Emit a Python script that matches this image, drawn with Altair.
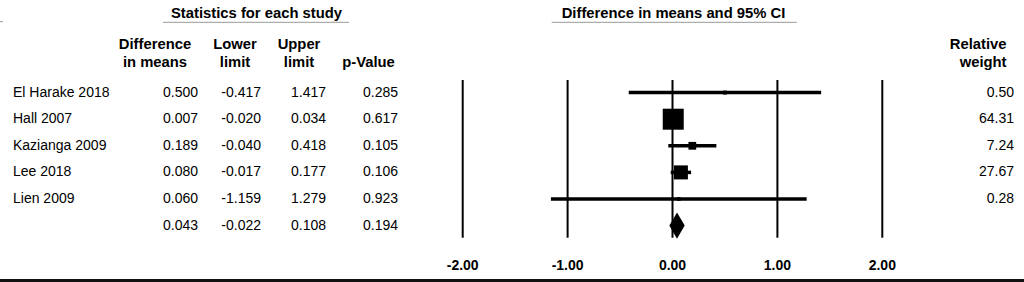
import altair as alt
import pandas as pd

# ---- data ----
studies = ["El Harake 2018", "Hall 2007", "Kazianga 2009", "Lee 2018", "Lien 2009"]
diff = [0.500, 0.007, 0.189, 0.080, 0.060]
lower = [-0.417, -0.020, -0.040, -0.017, -1.159]
upper = [1.417, 0.034, 0.418, 0.177, 1.279]
pval = [0.285, 0.617, 0.105, 0.106, 0.923]
weight = [0.50, 64.31, 7.24, 27.67, 0.28]

summary_diff = 0.043
summary_lower = -0.022
summary_upper = 0.108
summary_p = 0.194

ticks = [-2, -1, 0, 1, 2]
tick_labels = ["-2.00", "-1.00", "0.00", "1.00", "2.00"]

title_left = "Statistics for each study"
title_right = "Difference in means and 95% CI"
headers_top = ["Difference", "Lower", "Upper", "Relative"]
headers_bottom = ["in means", "limit", "limit", "p-Value", "weight"]

FONT = "Liberation Sans"
BODY = 14
BOLD = 14.8

# ---- tables built from the arrays ----
n = len(studies)
table = pd.DataFrame({
    "row": list(range(n + 1)),
    "name": studies + [""],
    "d": [f"{v:.3f}" for v in diff + [summary_diff]],
    "lo": [f"{v:.3f}" for v in lower + [summary_lower]],
    "hi": [f"{v:.3f}" for v in upper + [summary_upper]],
    "p": [f"{v:.3f}" for v in pval + [summary_p]],
    "w": [f"{v:.2f}" for v in weight] + [""],
})

studies_df = pd.DataFrame({
    "row": list(range(n)),
    "est": diff,
    "lo": lower,
    "hi": upper,
    "w": weight,
})

h = 0.44
diamond_df = pd.DataFrame({
    "x": [summary_lower, summary_diff, summary_upper],
    "ytop": [n, n - h, n],
    "ybot": [n, n + h, n],
})

ticks_df = pd.DataFrame({"tick": ticks, "label": tick_labels})

xscale = alt.Scale(domain=[-2, 2], range=[462.7, 882.3])
yscale = alt.Scale(domain=[0, 5], range=[92.6, 225.6])


def single():
    return alt.Chart(alt.Data(values=[{}]))


def label(x, y, s, align="center", bold=True, size=BOLD):
    return single().mark_text(
        font=FONT, fontSize=size, fontWeight="bold" if bold else "normal",
        align=align, baseline="middle", color="black"
    ).encode(x=alt.value(x), y=alt.value(y), text=alt.value(s))


def hrule(x1, x2, y, color, width):
    return single().mark_rule(color=color, strokeWidth=width).encode(
        x=alt.value(x1), x2=alt.value(x2), y=alt.value(y)
    )


layers = []

# titles and underlines
layers.append(label(256.5, 13.5, title_left))
layers.append(hrule(163, 349, 22.3, "#999999", 1))
layers.append(label(673.5, 13.5, title_right))
layers.append(hrule(551.7, 796.7, 22.3, "#999999", 1))
layers.append(hrule(0, 3, 21.7, "#999999", 1))

# column headers
hx = [155, 235, 299]
for i in range(3):
    layers.append(label(hx[i], 45, headers_top[i]))
    layers.append(label(hx[i], 62.7, headers_bottom[i]))
layers.append(label(368.5, 62.7, headers_bottom[3]))
layers.append(label(1006.5, 45, headers_top[3], align="right"))
layers.append(label(1006.5, 62.7, headers_bottom[4], align="right"))

# table body
base_txt = alt.Chart(table)
cols = [("name", 13, "left"), ("d", 198, "right"), ("lo", 261, "right"),
        ("hi", 326, "right"), ("p", 398, "right"), ("w", 1014, "right")]
for field, xpos, align in cols:
    layers.append(
        base_txt.mark_text(font=FONT, fontSize=BODY, align=align,
                           baseline="middle", color="black").encode(
            x=alt.value(xpos),
            y=alt.Y("row:Q", scale=yscale, axis=None),
            text=f"{field}:N",
        )
    )

# grid lines
layers.append(
    alt.Chart(ticks_df).mark_rule(color="black", strokeWidth=2).encode(
        x=alt.X("tick:Q", scale=xscale, axis=None),
        y=alt.value(80), y2=alt.value(237.7),
    )
)
layers.append(
    alt.Chart(ticks_df).mark_text(font=FONT, fontSize=14, fontWeight="bold",
                                  baseline="middle", color="black").encode(
        x=alt.X("tick:Q", scale=xscale, axis=None),
        y=alt.value(266),
        text="label:N",
    )
)

# confidence intervals
layers.append(
    alt.Chart(studies_df).mark_rule(color="black", strokeWidth=3.5).encode(
        x=alt.X("lo:Q", scale=xscale, axis=None),
        x2="hi:Q",
        y=alt.Y("row:Q", scale=yscale, axis=None),
    )
)
# point estimates
layers.append(
    alt.Chart(studies_df).mark_square(color="black", filled=True, opacity=1).encode(
        x=alt.X("est:Q", scale=xscale, axis=None),
        y=alt.Y("row:Q", scale=yscale, axis=None),
        size=alt.Size("w:Q", scale=alt.Scale(domain=[0, 64.31], range=[12, 441]), legend=None),
    )
)
# summary diamond
layers.append(
    alt.Chart(diamond_df).mark_area(color="black", opacity=1, stroke="black", strokeWidth=1.5).encode(
        x=alt.X("x:Q", scale=xscale, axis=None),
        y=alt.Y("ytop:Q", scale=yscale, axis=None),
        y2="ybot:Q",
    )
)

# bottom border
layers.append(hrule(0, 1024, 280.5, "#111111", 3))

chart = alt.layer(*layers).properties(
    width=1024, height=282, padding=0,
    autosize=alt.AutoSizeParams(type="none"),
    background="white",
).configure_view(stroke=None)

chart.save("out.html", embed_options={"renderer": "svg", "actions": False})
